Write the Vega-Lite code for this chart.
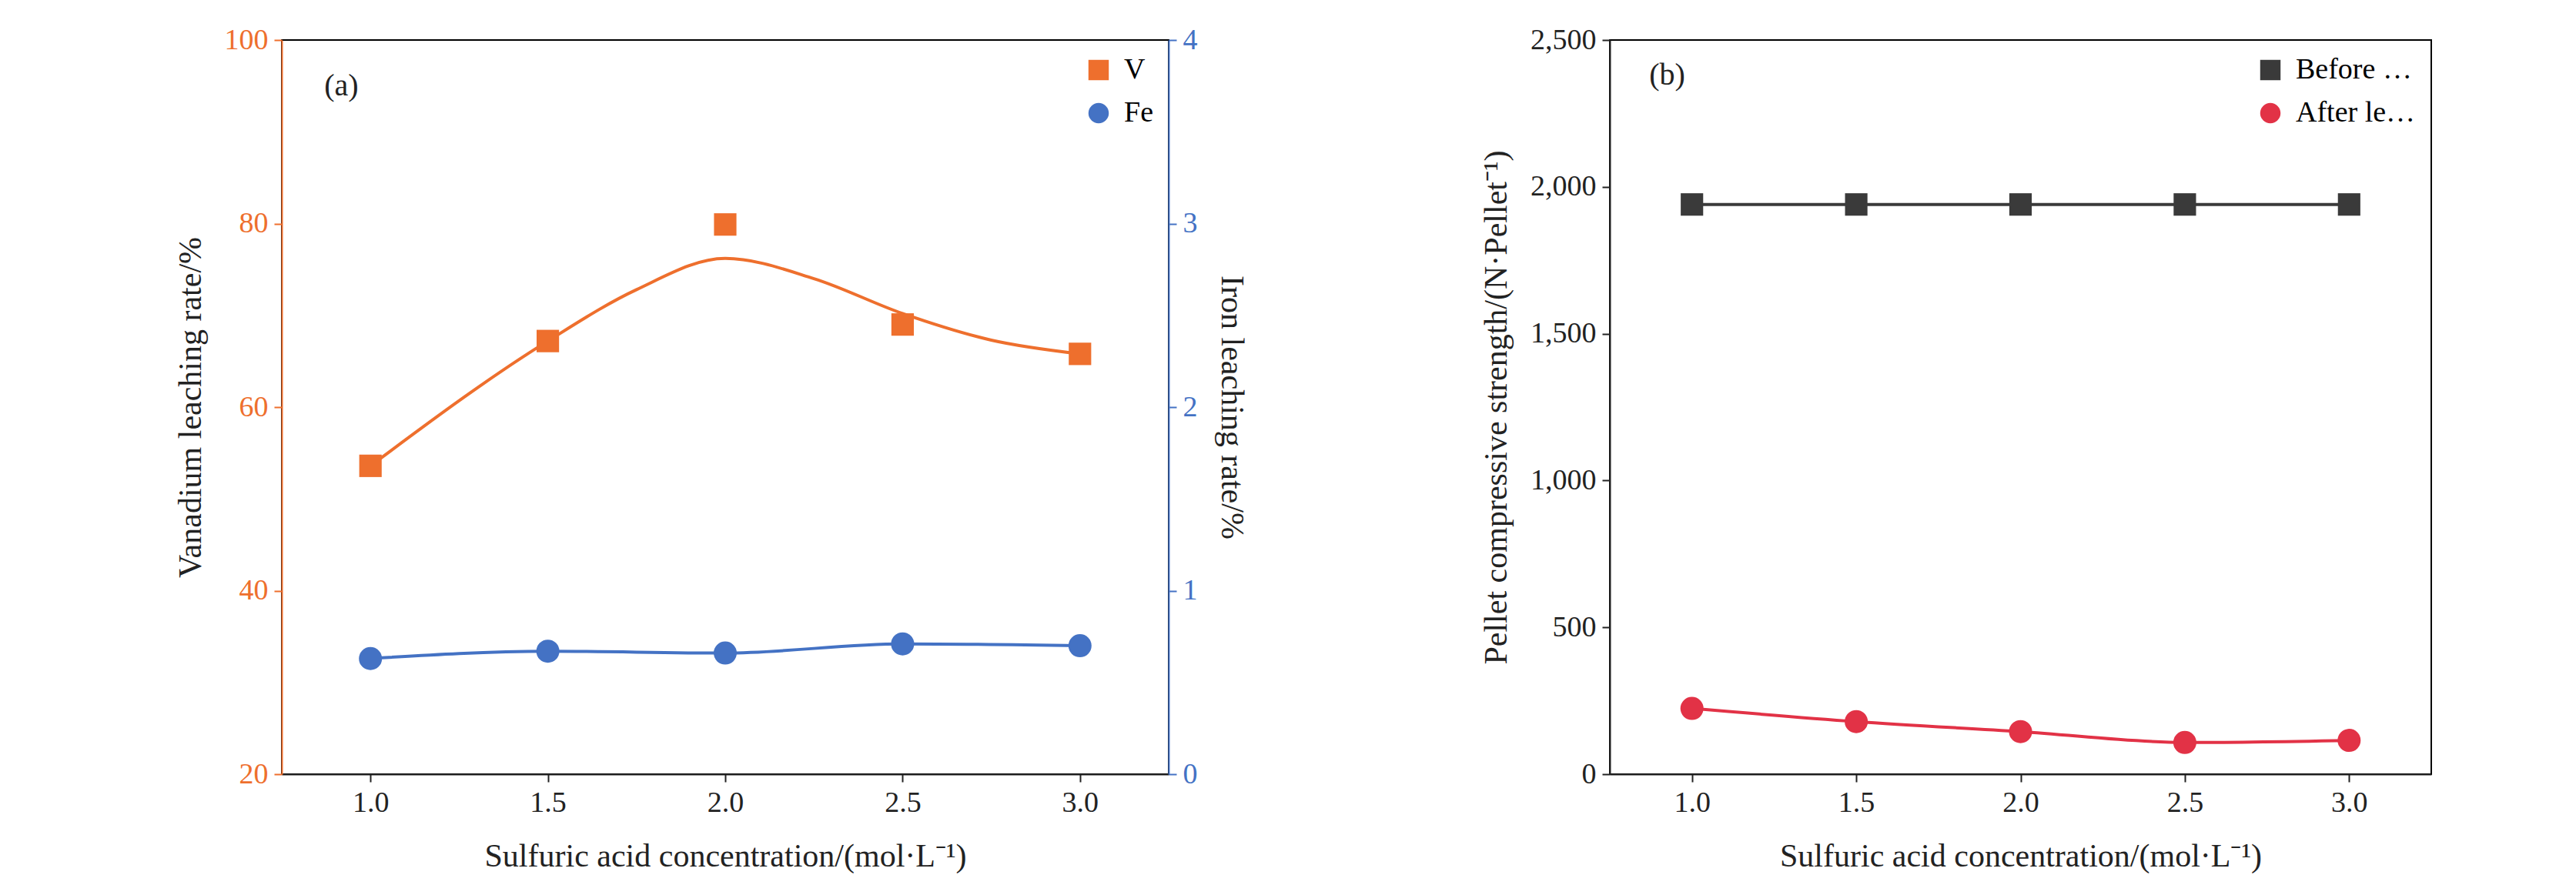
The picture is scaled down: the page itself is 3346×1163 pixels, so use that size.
{
  "$schema": "https://vega.github.io/schema/vega-lite/v6.json",
  "background": "white",
  "padding": {"left": 225, "top": 32, "right": 20, "bottom": 10},
  "spacing": 300,
  "config": {
    "font": "Liberation Serif",
    "view": {"stroke": "black", "strokeWidth": 2},
    "axis": {"labelFontSize": 38, "titleFontSize": 42, "titleFontWeight": "normal", "grid": false, "tickSize": 10, "tickWidth": 2, "domainWidth": 2, "labelColor": "#222", "titleColor": "#222", "tickColor": "#222", "domainColor": "#222", "labelPadding": 8, "titlePadding": 22},
    "legend": {"labelFontSize": 38, "symbolSize": 700, "symbolStrokeWidth": 0, "rowPadding": 18, "labelOffset": 14, "title": null, "offset": 20}
  },
  "datasets": {
    "vpts": [{"c": 1.0, "v": 53.6, "s": "V"}, {"c": 1.5, "v": 67.2, "s": "V"}, {"c": 2.0, "v": 79.9, "s": "V"}, {"c": 2.5, "v": 69.0, "s": "V"}, {"c": 3.0, "v": 65.8, "s": "V"}],
    "vfit": [{"c": 1.0, "v": 53.6}, {"c": 1.5, "v": 67.2}, {"c": 1.75, "v": 72.8}, {"c": 2.0, "v": 76.2}, {"c": 2.25, "v": 74.0}, {"c": 2.5, "v": 70.2}, {"c": 2.75, "v": 67.3}, {"c": 3.0, "v": 65.8}],
    "fe": [{"c": 1.0, "v": 0.63, "s": "Fe"}, {"c": 1.5, "v": 0.67, "s": "Fe"}, {"c": 2.0, "v": 0.66, "s": "Fe"}, {"c": 2.5, "v": 0.71, "s": "Fe"}, {"c": 3.0, "v": 0.70, "s": "Fe"}],
    "before": [{"c": 1.0, "v": 1940, "s": "Before leaching"}, {"c": 1.5, "v": 1940, "s": "Before leaching"}, {"c": 2.0, "v": 1940, "s": "Before leaching"}, {"c": 2.5, "v": 1940, "s": "Before leaching"}, {"c": 3.0, "v": 1940, "s": "Before leaching"}],
    "after": [{"c": 1.0, "v": 224, "s": "After leaching"}, {"c": 1.5, "v": 179, "s": "After leaching"}, {"c": 2.0, "v": 145, "s": "After leaching"}, {"c": 2.5, "v": 108, "s": "After leaching"}, {"c": 3.0, "v": 115, "s": "After leaching"}]
  },
  "hconcat": [
    {
      "width": 1152,
      "height": 954,
      "layer": [
        {
          "layer": [
            {"data": {"name": "vfit"}, "mark": {"type": "line", "interpolate": "monotone", "color": "#EE6F2D", "strokeWidth": 4}, "encoding": {"x": {"field": "c", "type": "quantitative"}, "y": {"field": "v", "type": "quantitative"}}},
            {"data": {"name": "vpts"}, "mark": {"type": "point", "filled": true, "opacity": 1}, "encoding": {"x": {"field": "c", "type": "quantitative"}, "y": {"field": "v", "type": "quantitative"}, "color": {"field": "s", "type": "nominal", "scale": {"domain": ["V", "Fe"], "range": ["#EE6F2D", "#4472C4"]}, "legend": {"orient": "top-right"}}, "shape": {"field": "s", "type": "nominal", "scale": {"domain": ["V", "Fe"], "range": ["square", "circle"]}}, "size": {"value": 850}}},
            {"data": {"values": [{"c": 0.87, "v": 95, "t": "(a)"}]}, "mark": {"type": "text", "fontSize": 40, "align": "left", "color": "#222"}, "encoding": {"x": {"field": "c", "type": "quantitative"}, "y": {"field": "v", "type": "quantitative"}, "text": {"field": "t"}}}
          ],
          "encoding": {
            "x": {"field": "c", "type": "quantitative", "scale": {"domain": [0.75, 3.25], "nice": false}, "axis": {"values": [1, 1.5, 2, 2.5, 3], "format": ".1f", "title": "Sulfuric acid concentration/(mol·L⁻¹)", "titlePadding": 30}},
            "y": {"field": "v", "type": "quantitative", "scale": {"domain": [20, 100], "nice": false}, "axis": {"values": [20, 40, 60, 80, 100], "title": "Vanadium leaching rate/%", "labelColor": "#EE6F2D", "titleColor": "#222", "domainColor": "#EE6F2D", "tickColor": "#EE6F2D"}}
          }
        },
        {
          "data": {"name": "fe"},
          "layer": [
            {"mark": {"type": "line", "interpolate": "monotone", "color": "#4472C4", "strokeWidth": 4}},
            {"mark": {"type": "point", "filled": true, "opacity": 1}, "encoding": {"color": {"field": "s", "type": "nominal"}, "shape": {"field": "s", "type": "nominal"}, "size": {"value": 900}}}
          ],
          "encoding": {
            "x": {"field": "c", "type": "quantitative"},
            "y": {"field": "v", "type": "quantitative", "scale": {"domain": [0, 4], "nice": false}, "axis": {"orient": "right", "values": [0, 1, 2, 3, 4], "title": "Iron leaching rate/%", "labelColor": "#4472C4", "domainColor": "#4472C4", "tickColor": "#4472C4"}}
          }
        }
      ],
      "resolve": {"scale": {"y": "independent"}}
    },
    {
      "width": 1067,
      "height": 954,
      "layer": [
        {"data": {"name": "before"}, "mark": {"type": "line", "color": "#3A3A3A", "strokeWidth": 4}, "encoding": {}},
        {"data": {"name": "after"}, "mark": {"type": "line", "interpolate": "monotone", "color": "#E23246", "strokeWidth": 4}, "encoding": {}},
        {"data": {"name": "before"}, "mark": {"type": "point", "filled": true, "opacity": 1}, "encoding": {"color": {"field": "s", "type": "nominal", "scale": {"domain": ["Before leaching", "After leaching"], "range": ["#3A3A3A", "#E23246"]}, "legend": {"orient": "top-right"}}, "shape": {"field": "s", "type": "nominal", "scale": {"domain": ["Before leaching", "After leaching"], "range": ["square", "circle"]}}, "size": {"value": 850}}},
        {"data": {"name": "after"}, "mark": {"type": "point", "filled": true, "opacity": 1}, "encoding": {"color": {"field": "s", "type": "nominal"}, "shape": {"field": "s", "type": "nominal"}, "size": {"value": 900}}},
        {"data": {"values": [{"c": 0.87, "v": 2380, "t": "(b)"}]}, "mark": {"type": "text", "fontSize": 40, "align": "left", "color": "#222"}, "encoding": {"text": {"field": "t"}}}
      ],
      "encoding": {
        "x": {"field": "c", "type": "quantitative", "scale": {"domain": [0.75, 3.25], "nice": false}, "axis": {"values": [1, 1.5, 2, 2.5, 3], "format": ".1f", "title": "Sulfuric acid concentration/(mol·L⁻¹)", "titlePadding": 30}},
        "y": {"field": "v", "type": "quantitative", "scale": {"domain": [0, 2500], "nice": false}, "axis": {"values": [0, 500, 1000, 1500, 2000, 2500], "title": "Pellet compressive strength/(N·Pellet⁻¹)"}}
      }
    }
  ],
  "resolve": {"scale": {"color": "independent", "shape": "independent"}, "legend": {"color": "independent", "shape": "independent"}}
}
